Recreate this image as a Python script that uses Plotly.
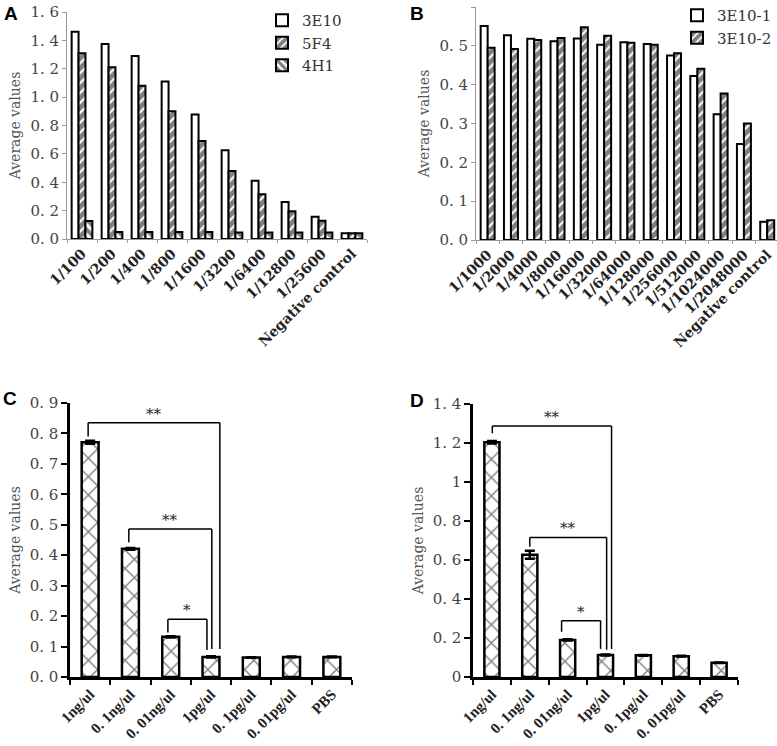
import plotly.graph_objects as go

W, H = 777, 746

# ---------------- data ----------------
a_cats = ["1/100", "1/200", "1/400", "1/800", "1/1600", "1/3200", "1/6400",
          "1/12800", "1/25600", "Negative control"]
a_3e10 = [1.46, 1.375, 1.29, 1.11, 0.877, 0.625, 0.41, 0.26, 0.156, 0.04]
a_5f4 = [1.31, 1.21, 1.08, 0.90, 0.69, 0.48, 0.315, 0.196, 0.128, 0.04]
a_4h1 = [0.126, 0.05, 0.05, 0.05, 0.05, 0.045, 0.045, 0.045, 0.045, 0.04]

b_cats = ["1/1000", "1/2000", "1/4000", "1/8000", "1/16000", "1/32000", "1/64000",
          "1/128000", "1/256000", "1/512000", "1/1024000", "1/2048000", "Negative control"]
b_1 = [0.551, 0.527, 0.518, 0.512, 0.519, 0.503, 0.509, 0.505, 0.475, 0.422, 0.324, 0.247, 0.047]
b_2 = [0.495, 0.492, 0.515, 0.52, 0.548, 0.526, 0.508, 0.503, 0.481, 0.441, 0.377, 0.300, 0.051]

cd_cats = ["1ng/ul", "0. 1ng/ul", "0. 01ng/ul", "1pg/ul", "0. 1pg/ul", "0. 01pg/ul", "PBS"]
c_vals = [0.771, 0.421, 0.132, 0.066, 0.064, 0.066, 0.066]
c_err = [0.005, 0.003, 0.002, 0.002, 0.001, 0.001, 0.001]
d_vals = [1.204, 0.627, 0.190, 0.113, 0.111, 0.107, 0.073]
d_err = [0.006, 0.02, 0.003, 0.003, 0.002, 0.002, 0.001]

# significance brackets: (left idx, right idx, left bottom, top, right bottom, label)
c_brackets = [(-0.05, 3.22, 0.79, 0.835, 0.092, "**"),
              (0.96, 3.02, 0.443, 0.486, 0.092, "**"),
              (1.93, 2.90, 0.146, 0.19, 0.089, "*")]
d_brackets = [(0.01, 3.16, 1.25, 1.287, 0.144, "**"),
              (1.0, 3.03, 0.668, 0.716, 0.14, "**"),
              (1.84, 2.87, 0.232, 0.289, 0.144, "*")]

a_yticks = [0, 0.2, 0.4, 0.6, 0.8, 1.0, 1.2, 1.4, 1.6]
a_ytext = ["0. 0", "0. 2", "0. 4", "0. 6", "0. 8", "1. 0", "1. 2", "1. 4", "1. 6"]
b_yticks = [0, 0.1, 0.2, 0.3, 0.4, 0.5, 0.6]
b_ytext = ["0. 0", "0. 1", "0. 2", "0. 3", "0. 4", "0. 5", "0. 6"]
c_yticks = [0, 0.1, 0.2, 0.3, 0.4, 0.5, 0.6, 0.7, 0.8, 0.9]
c_ytext = ["0. 0", "0. 1", "0. 2", "0. 3", "0. 4", "0. 5", "0. 6", "0. 7", "0. 8", "0. 9"]
d_yticks = [0, 0.2, 0.4, 0.6, 0.8, 1.0, 1.2, 1.4]
d_ytext = ["0", "0. 2", "0. 4", "0. 6", "0. 8", "1", "1. 2", "1. 4"]

SERIF = "DejaVu Serif, Liberation Serif, serif"
fig = go.Figure()

def px_x(p):
    return p / W

def px_y(p):
    return 1 - p / H

line_blk = dict(color="black", width=2)

# ---- panel A ----
fig.add_trace(go.Bar(x=a_cats, y=a_3e10, name="3E10", width=0.23, offset=-0.345,
                     marker=dict(color="white", line=line_blk), xaxis="x", yaxis="y", legend="legend"))
fig.add_trace(go.Bar(x=a_cats, y=a_5f4, name="5F4", width=0.23, offset=-0.115,
                     marker=dict(color="white", line=line_blk,
                                 pattern=dict(shape="/", fgcolor="black", size=7, solidity=0.7)),
                     xaxis="x", yaxis="y", legend="legend"))
fig.add_trace(go.Bar(x=a_cats, y=a_4h1, name="4H1", width=0.23, offset=0.115,
                     marker=dict(color="white", line=line_blk,
                                 pattern=dict(shape="\\", fgcolor="black", size=7, solidity=0.55)),
                     xaxis="x", yaxis="y", legend="legend"))

# ---- panel B ----
fig.add_trace(go.Bar(x=b_cats, y=b_1, name="3E10-1", width=0.3, offset=-0.3,
                     marker=dict(color="white", line=line_blk), xaxis="x2", yaxis="y2", legend="legend2"))
fig.add_trace(go.Bar(x=b_cats, y=b_2, name="3E10-2", width=0.3, offset=0.0,
                     marker=dict(color="white", line=line_blk,
                                 pattern=dict(shape="/", fgcolor="black", size=7, solidity=0.7)),
                     xaxis="x2", yaxis="y2", legend="legend2"))

# ---- panel C ----
fig.add_trace(go.Bar(x=cd_cats, y=c_vals, width=0.42, offset=-0.21, showlegend=False,
                     error_y=dict(type="data", array=c_err, color="black", thickness=2.5, width=5),
                     marker=dict(color="white", line=dict(color="black", width=2.5),
                                 pattern=dict(shape="x", fgcolor="black", size=13, solidity=0.2)),
                     xaxis="x3", yaxis="y3"))
# ---- panel D ----
fig.add_trace(go.Bar(x=cd_cats, y=d_vals, width=0.4, offset=-0.2, showlegend=False,
                     error_y=dict(type="data", array=d_err, color="black", thickness=2.5, width=5),
                     marker=dict(color="white", line=dict(color="black", width=2.5),
                                 pattern=dict(shape="x", fgcolor="black", size=13, solidity=0.2)),
                     xaxis="x4", yaxis="y4"))

shapes = []
annotations = []
for (xr, yr, brs) in [("x3", "y3", c_brackets), ("x4", "y4", d_brackets)]:
    for (x0, x1, y0, yt, y1, lab) in brs:
        for seg in [(x0, y0, x0, yt), (x0, yt, x1, yt), (x1, yt, x1, y1)]:
            shapes.append(dict(type="line", xref=xr, yref=yr, x0=seg[0], y0=seg[1],
                               x1=seg[2], y1=seg[3], line=dict(color="black", width=1.5)))
        annotations.append(dict(xref=xr, yref=yr, x=(x0 + x1) / 2, y=yt, text=lab,
                                showarrow=False, yanchor="bottom", yshift=-2,
                                font=dict(family=SERIF, size=15, color="#222")))

for (lab, xp, yp) in [("A", 2, 1), ("B", 408, 1), ("C", 1, 386), ("D", 408, 388)]:
    annotations.append(dict(xref="paper", yref="paper", x=px_x(xp), y=px_y(yp), text="<b>%s</b>" % lab,
                            showarrow=False, xanchor="left", yanchor="top",
                            font=dict(family="Liberation Sans, Arial, sans-serif", size=19, color="black")))

tickfont = dict(family=SERIF, size=15, color="#444")
xtickfont = dict(family=SERIF, size=14, color="#222", weight="bold")
cdtickfont = dict(family="Liberation Serif, serif", size=15, color="#222", weight="bold")
titlefont = dict(family=SERIF, size=14, color="#555")

def light_x(domain, rng=None):
    d = dict(domain=domain, showline=True, linecolor="#999", linewidth=1, ticks="outside",
             tickson="boundaries", ticklen=3, tickcolor="#999", tickangle=-45, tickfont=xtickfont,
             showgrid=False, zeroline=False, fixedrange=True, automargin=False)
    if rng is not None:
        d["range"] = rng
    return d

def light_y(domain, rng, tv, tt):
    return dict(domain=domain, range=rng, tickvals=tv, ticktext=tt, showline=True, linecolor="#999",
                linewidth=1, ticks="outside", ticklen=4, tickcolor="#999", tickfont=tickfont,
                showgrid=False, zeroline=False, automargin=False,
                title=dict(text="Average values", font=titlefont, standoff=6))

def heavy_x(domain, anchor):
    return dict(domain=domain, anchor=anchor, showline=True, linecolor="black", linewidth=2.5,
                ticks="outside", tickson="boundaries", ticklen=5, tickwidth=2, tickcolor="black",
                tickangle=-45, tickfont=cdtickfont, showgrid=False, zeroline=False,
                range=[-0.5, 6.5], automargin=False)

def heavy_y(domain, anchor, rng, tv, tt):
    return dict(domain=domain, anchor=anchor, range=rng, tickvals=tv, ticktext=tt, showline=True,
                linecolor="black", linewidth=2.5, ticks="outside", ticklen=6, tickwidth=2,
                tickcolor="black", tickfont=tickfont, showgrid=False, zeroline=False, automargin=False,
                title=dict(text="Average values", font=titlefont, standoff=6))

fig.update_layout(
    width=W, height=H, margin=dict(l=0, r=0, t=0, b=0, autoexpand=False),
    paper_bgcolor="white", plot_bgcolor="white", barmode="overlay",
    xaxis=dict(light_x([px_x(67), px_x(367)], [-0.5, 9.5]), anchor="y"),
    yaxis=dict(light_y([px_y(239), px_y(12)], [0, 1.6], a_yticks, a_ytext), anchor="x"),
    xaxis2=dict(light_x([px_x(476), 1.0], [-0.5, 12.42]), anchor="y2"),
    yaxis2=dict(light_y([px_y(240), px_y(7)], [0, 0.6], b_yticks, b_ytext), anchor="x2"),
    xaxis3=heavy_x([px_x(70), px_x(352)], "y3"),
    yaxis3=heavy_y([px_y(677), px_y(403)], "x3", [0, 0.9], c_yticks, c_ytext),
    xaxis4=heavy_x([px_x(473), px_x(738)], "y4"),
    yaxis4=heavy_y([px_y(677), px_y(404)], "x4", [0, 1.4], d_yticks, d_ytext),
    legend=dict(x=px_x(262), y=px_y(4), xanchor="left", yanchor="top", bgcolor="rgba(0,0,0,0)",
                font=dict(family=SERIF, size=15, color="#333"), tracegroupgap=0, itemwidth=30),
    legend2=dict(x=px_x(677), y=px_y(-1), xanchor="left", yanchor="top", bgcolor="rgba(0,0,0,0)",
                 font=dict(family=SERIF, size=15, color="#333"), tracegroupgap=0, itemwidth=30),
    shapes=shapes, annotations=annotations,
)

fig.write_html("out.html", config={"displayModeBar": False},
               post_script="document.body.style.margin='0px';document.body.style.overflow='hidden';")
